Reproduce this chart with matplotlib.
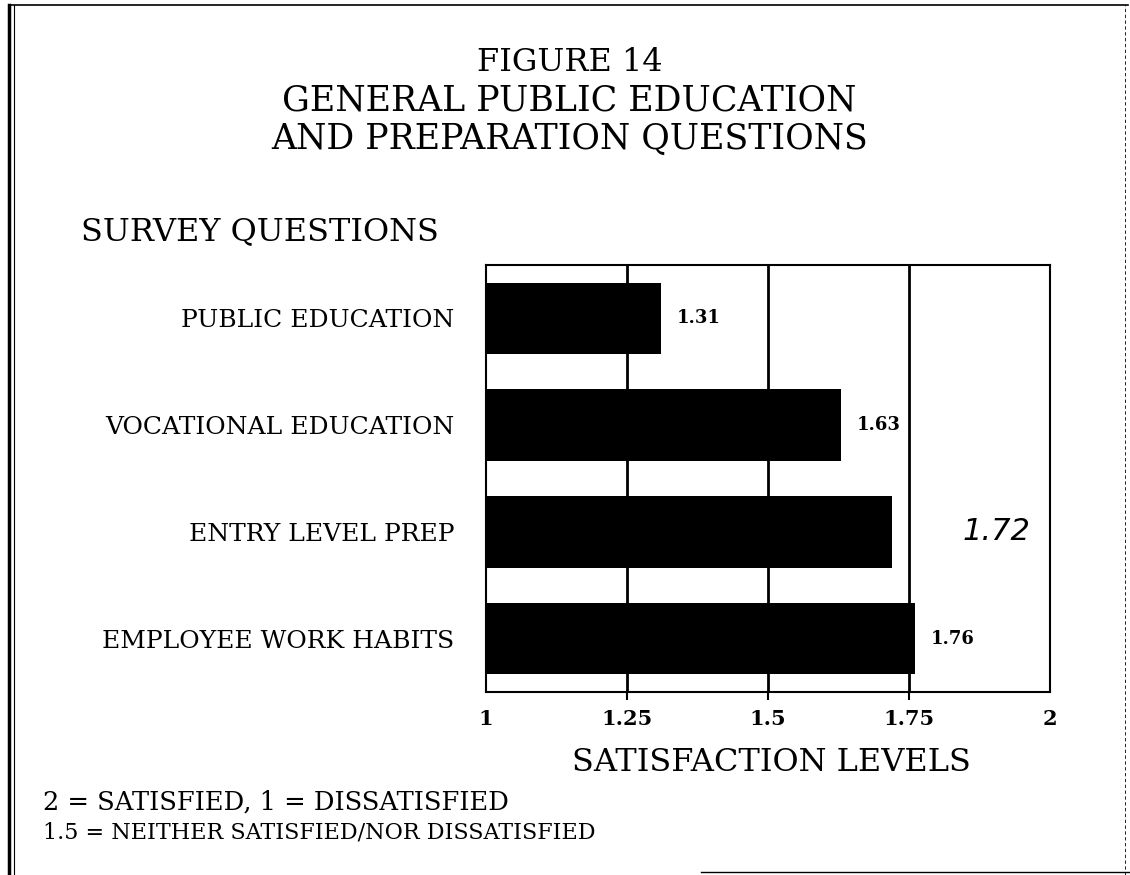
import numpy as np
import matplotlib.pyplot as plt
from matplotlib.lines import Line2D

# survey data
questions = ['PUBLIC EDUCATION', 'VOCATIONAL EDUCATION', 'ENTRY LEVEL PREP', 'EMPLOYEE WORK HABITS']
scores = [1.31, 1.63, 1.72, 1.76]
value_labels = ['1.31', '1.63', '1.72', '1.76']
xticks = [1, 1.25, 1.5, 1.75, 2]
xtick_labels = ['1', '1.25', '1.5', '1.75', '2']

serif = ['DejaVu Serif']

fig = plt.figure(figsize=(11.3, 8.75), dpi=100)
fig.patch.set_facecolor('white')

# page frame of the scan
fig.add_artist(Line2D([0.008, 0.008], [0.0, 0.994], color='black', lw=2.5))
fig.add_artist(Line2D([0.012, 0.012], [0.0, 0.994], color='black', lw=0.8))
fig.add_artist(Line2D([0.008, 0.998], [0.994, 0.994], color='black', lw=1.2))
fig.add_artist(Line2D([0.996, 0.996], [0.0, 0.994], color='black', lw=0.6, ls=(0, (4, 3))))
fig.add_artist(Line2D([0.62, 1.0], [0.004, 0.004], color='black', lw=1.0))

# titles
fig.text(0.504, 0.929, 'FIGURE 14', ha='center', va='center', fontsize=23, family=serif)
fig.text(0.504, 0.885, 'GENERAL PUBLIC EDUCATION', ha='center', va='center', fontsize=25, family=serif)
fig.text(0.504, 0.841, 'AND PREPARATION QUESTIONS', ha='center', va='center', fontsize=25, family=serif)
fig.text(0.072, 0.735, 'SURVEY QUESTIONS', ha='left', va='center', fontsize=23, family=serif)

ax = fig.add_axes([0.4301, 0.2091, 0.4991, 0.488])
y = np.arange(len(questions))

for g in [1.25, 1.5, 1.75]:
    ax.axvline(g, color='black', lw=2, zorder=1)

ax.barh(y, [s - 1 for s in scores], left=1, height=0.67, color='black', zorder=2)

for i, (s, lab) in enumerate(zip(scores, value_labels)):
    if lab == '1.72':
        # handwritten value next to the bar
        ax.text(1.905, i, lab, ha='center', va='center', fontsize=22,
                family=['DejaVu Sans'], fontweight='light', style='italic')
    else:
        ax.text(s + 0.028, i, lab, ha='left', va='center', fontsize=13,
                family=serif, fontweight='bold')

ax.set_xlim(1, 2)
ax.set_ylim(3.5, -0.5)
ax.set_yticks(y)
ax.set_yticklabels(questions, fontsize=18, family=serif)
ax.tick_params(axis='y', length=0, pad=23)
ax.set_xticks(xticks)
ax.set_xticklabels(xtick_labels, fontsize=15, family=serif, fontweight='bold')
ax.tick_params(axis='x', direction='out', length=6, width=1.5, pad=6)
# no tick marks at the two ends, only at the inner values
for t in (ax.xaxis.get_major_ticks()[0], ax.xaxis.get_major_ticks()[-1]):
    t.tick1line.set_visible(False)
for sp in ax.spines.values():
    sp.set_linewidth(1.5)

fig.text(0.683, 0.129, 'SATISFACTION LEVELS', ha='center', va='center', fontsize=23, family=serif)
fig.text(0.038, 0.083, '2 = SATISFIED, 1 = DISSATISFIED', ha='left', va='center', fontsize=18.5, family=serif)
fig.text(0.038, 0.049, '1.5 = NEITHER SATISFIED/NOR DISSATISFIED', ha='left', va='center', fontsize=16, family=serif)

plt.savefig('out.png', dpi=100)
